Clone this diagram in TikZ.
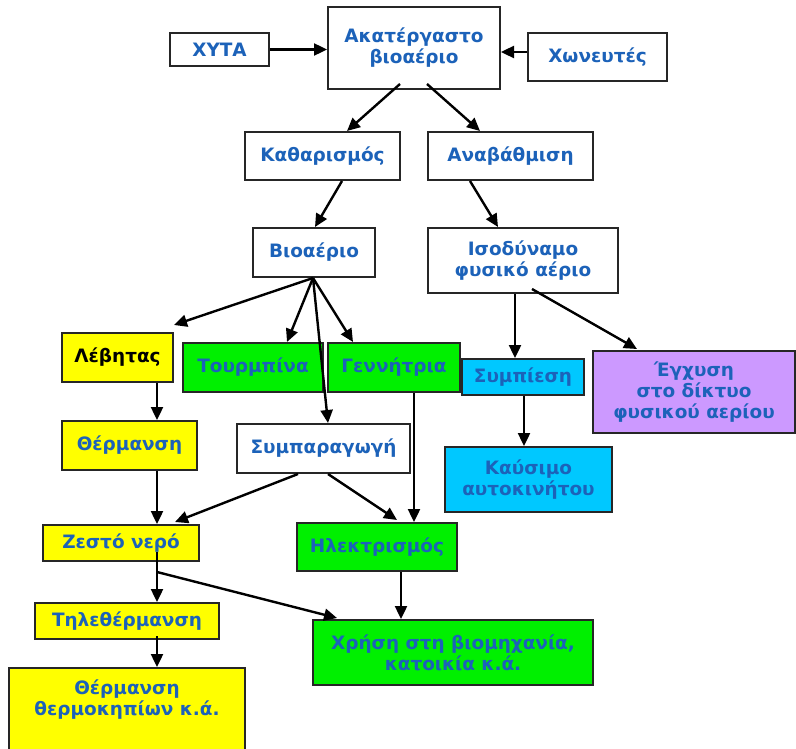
\documentclass[tikz,border=0pt]{standalone}
\usepackage{fontspec}
\setmainfont{DejaVu Sans}
\usetikzlibrary{arrows.meta,calc}
\definecolor{txtblue}{RGB}{28,98,185}
\definecolor{yel}{RGB}{255,255,0}
\definecolor{grn}{RGB}{0,240,0}
\definecolor{cyn}{RGB}{0,200,255}
\definecolor{lil}{RGB}{204,153,255}
\tikzset{
  box/.style={draw=black!85, line width=2bp, inner sep=0pt, align=center,
    text=txtblue, font=\bfseries\fontsize{18.5}{21}\selectfont},
  wbox/.style={box, fill=white},
  ybox/.style={box, fill=yel},
  gbox/.style={box, fill=grn},
  cbox/.style={box, fill=cyn},
  lbox/.style={box, fill=lil},
  arr/.style={line width=2.4bp, -{Triangle[length=13bp,width=12bp]}},
}
\begin{document}
\begin{tikzpicture}[x=1bp,y=-1bp]
\useasboundingbox (0,0) rectangle (796,749);
\begin{scope}
\clip (0,0) rectangle (796,749);
\node[wbox, minimum width=99bp, minimum height=33bp] (xyta) at (219.5,49.5) {ΧΥΤΑ};
\node[wbox, minimum width=172bp, minimum height=82bp] (raw) at (414,48) {Ακατέργαστο\\βιοαέριο};
\node[wbox, minimum width=139bp, minimum height=48bp] (xon) at (597.5,57) {Χωνευτές};
\node[wbox, minimum width=155bp, minimum height=48bp] (kath) at (322.5,156) {Καθαρισμός};
\node[wbox, minimum width=165bp, minimum height=48bp] (anav) at (510.5,156) {Αναβάθμιση};
\node[wbox, minimum width=122bp, minimum height=49bp] (bio) at (314,252.5) {Βιοαέριο};
\node[wbox, minimum width=190bp, minimum height=65bp] (iso) at (523,260.5) {Ισοδύναμο\\φυσικό αέριο};
\node[ybox, text=black, minimum width=111bp, minimum height=49bp] (lev) at (117.5,357.5) {Λέβητας};
\node[gbox, minimum width=140bp, minimum height=49bp] (turb) at (253,367.5) {Τουρμπίνα};
\node[gbox, minimum width=132bp, minimum height=49bp] (gen) at (394,367.5) {Γεννήτρια};
\node[cbox, minimum width=122bp, minimum height=36bp] (symp) at (523,377) {Συμπίεση};
\node[lbox, minimum width=202bp, minimum height=82bp] (egx) at (694,392) {Έγχυση\\στο δίκτυο\\φυσικού αερίου};
\node[ybox, minimum width=135bp, minimum height=49bp] (therm) at (129.5,445.5) {Θέρμανση};
\node[wbox, minimum width=173bp, minimum height=49bp] (sympar) at (323.5,448.5) {Συμπαραγωγή};
\node[cbox, minimum width=167bp, minimum height=65bp] (kaus) at (528.5,479.5) {Καύσιμο\\αυτοκινήτου};
\node[ybox, minimum width=156bp, minimum height=36bp] (zn) at (121,543) {Ζεστό νερό};
\node[gbox, minimum width=160bp, minimum height=48bp] (ilek) at (377,547) {Ηλεκτρισμός};
\node[ybox, minimum width=184bp, minimum height=36bp] (tile) at (127,621) {Τηλεθέρμανση};
\node[ybox, minimum width=236bp, minimum height=100bp] (therm2) at (127,718) {};
\node[text=txtblue, font=\bfseries\fontsize{18.5}{21}\selectfont, align=center] (therm2t) at (127,700) {Θέρμανση\\θερμοκηπίων κ.ά.};
\node[gbox, minimum width=280bp, minimum height=65bp] (xrisi) at (453,652.5) {Χρήση στη βιομηχανία,\\κατοικία κ.ά.};
\end{scope}
% arrows
\draw[arr] (xyta.east) -- (raw.west |- xyta.east);
\draw[arr] (xon.west |- 0,52) -- (raw.east |- 0,52);
\draw[arr] ([yshift=6bp]raw.south -| 400,0) -- (kath.north -| 347,0);
\draw[arr] ([yshift=6bp]raw.south -| 427,0) -- (anav.north -| 480,0);
\draw[arr] (kath.south -| 342,0) -- (bio.north -| 315,0);
\draw[arr] (anav.south -| 470,0) -- (iso.north -| 498,0);
\draw[arr] (bio.south -| 313,0) -- ([yshift=7bp]lev.north east);
\draw[arr] (bio.south -| 313,0) -- (turb.north -| 287,0);
\draw[arr] (bio.south -| 313,0) -- (gen.north -| 353,0);
\draw[arr] (bio.south -| 313,0) -- (sympar.north -| 328,0);
\draw[arr] (gen.south -| 414,0) -- (ilek.north -| 414,0);
\draw[arr] (lev.south -| 157,0) -- (therm.north -| 157,0);
\draw[arr] (therm.south -| 157,0) -- (zn.north -| 157,0);
\draw[arr] (sympar.south -| 298,0) -- ([yshift=2bp]zn.north -| 175,0);
\draw[arr] (sympar.south -| 328,0) -- ([yshift=2bp]ilek.north -| 397,0);
\draw[arr] (iso.south -| 515,0) -- (symp.north -| 515,0);
\draw[arr] ([yshift=5bp]iso.south -| 532,0) -- ([yshift=1bp]egx.north -| 637,0);
\draw[arr] (symp.south -| 524,0) -- (kaus.north -| 524,0);
\draw[arr] ([yshift=10bp]zn.south -| 157,0) -- (tile.north -| 157,0);
\coordinate (br) at (157,572);
\draw[arr] (br) -- ([yshift=1bp]xrisi.north -| 337,0);
\draw[arr] (ilek.south -| 401,0) -- (xrisi.north -| 401,0);
\draw[arr] ([yshift=4bp]tile.south -| 157,0) -- (therm2.north -| 157,0);
\end{tikzpicture}
\end{document}
